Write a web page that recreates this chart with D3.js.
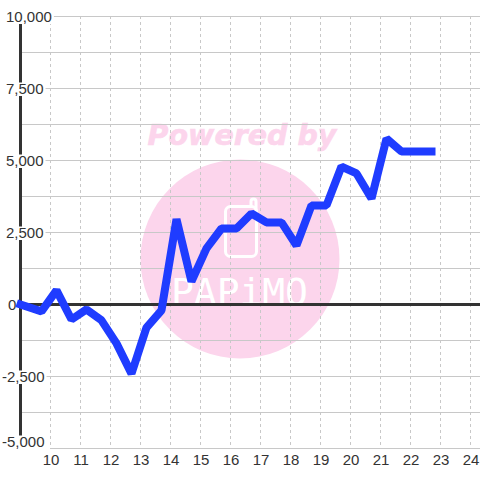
<!DOCTYPE html>
<html><head><meta charset="utf-8">
<script src="https://cdn.jsdelivr.net/npm/d3@7/dist/d3.min.js"></script>
<style>html,body{margin:0;padding:0;background:#fff}svg{display:block}</style>
</head><body><div id="c"></div>
<script>
const hours=[9.0,9.7,10.2,10.7,11.2,11.7,12.2,12.7,13.2,13.7,14.2,14.7,15.2,15.7,16.2,16.7,17.2,17.7,18.2,18.7,19.2,19.7,20.2,20.7,21.2,21.7,22.2,22.7];
const values=[0,-240,490,-520,-170,-550,-1350,-2400,-800,-200,2960,800,1950,2640,2640,3160,2850,2850,2050,3440,3440,4790,4550,3680,5760,5310,5310,5310];
const xTicks=[10,11,12,13,14,15,16,17,18,19,20,21,22,23,24];
const yGrid=[10000,8750,7500,6250,5000,3750,2500,1250,0,-1250,-2500,-3750,-5000];
const yLabels=[10000,7500,5000,2500,0,-2500,-5000];
const W=480,H=480;
const x=d3.scaleLinear().domain([10,24]).range([50.5,470.5]);
const y=d3.scaleLinear().domain([-5000,10000]).range([448.5,16.5]);
const svg=d3.select("#c").append("svg").attr("width",W).attr("height",H);
const pink="#fcd5ec";
const wm=svg.append("g");
wm.append("text").attr("x",242).attr("y",145).attr("text-anchor","middle")
  .attr("font-family","DejaVu Sans").attr("font-weight","bold").attr("font-style","italic")
  .attr("font-size",28.5).attr("fill",pink).attr("stroke",pink).attr("stroke-width",0.6).text("Powered by");
wm.append("circle").attr("cx",240).attr("cy",259).attr("r",99.5).attr("fill",pink);
wm.append("rect").attr("x",225.5).attr("y",206.5).attr("width",31).attr("height",50).attr("rx",5)
  .attr("fill","none").attr("stroke","#fff").attr("stroke-width",3);
wm.append("path").attr("d","M251 206V201.5a2.5 2.5 0 0 1 5 0V212").attr("fill","none").attr("stroke","#fff").attr("stroke-width",3);
wm.append("text").attr("x",171).attr("y",305).attr("textLength",137).attr("lengthAdjust","spacing")
  .attr("font-family","DejaVu Sans Mono").attr("font-size",38)
  .attr("fill","#fff").text("PAPiMO");

const grid=svg.append("g");
grid.selectAll("line.v").data(xTicks).join("line").attr("class","v")
  .attr("x1",d=>x(d)).attr("x2",d=>x(d)).attr("y1",16).attr("y2",448)
  .attr("stroke","#c8c8c8").attr("stroke-width",1).attr("stroke-dasharray","3,3");
grid.selectAll("line.h").data(yGrid).join("line").attr("class","h")
  .attr("x1",d=>d===-5000?50:20).attr("x2",W).attr("y1",d=>y(d)).attr("y2",d=>y(d))
  .attr("stroke","#c8c8c8").attr("stroke-width",1);
svg.append("line").attr("x1",20.5).attr("x2",20.5).attr("y1",16).attr("y2",448).attr("stroke","#333").attr("stroke-width",3);
svg.append("line").attr("x1",20).attr("x2",W).attr("y1",y(0)).attr("y2",y(0)).attr("stroke","#333").attr("stroke-width",3);

const ya=svg.append("g");
const fmt=d=>d3.format(",")(d).replace("\u2212","-");
ya.selectAll("g").data(yLabels).join("g").each(function(d){
  const g=d3.select(this);
  const cy=y(d)-(d===-5000?7:0);
  const t=g.append("text").attr("x",d<0?2:(d===0?8:6)).attr("y",cy+5.5)
    .attr("font-family","Liberation Sans").attr("font-size",15).attr("fill","#333").text(fmt(d));
  const b=t.node().getBBox();
  g.insert("rect","text").attr("x",b.x-1).attr("y",cy-6).attr("width",b.width+3).attr("height",13.5).attr("fill","#fff");
});
const xa=svg.append("g").attr("transform","translate(0,448.5)")
  .call(d3.axisBottom(x).tickValues(xTicks).tickFormat(d3.format("d")).tickSize(0).tickPadding(6));
xa.select(".domain").remove();
xa.selectAll("text").attr("font-family","Liberation Sans").attr("font-size",15).attr("fill","#333");

const line=d3.line().x((d,i)=>x(hours[i])).y(d=>y(d));
svg.append("path").datum(values).attr("d",line).attr("fill","none").attr("stroke","#1f3cff")
  .attr("stroke-width",8).attr("stroke-linejoin","bevel").attr("stroke-linecap","square");
</script></body></html>
